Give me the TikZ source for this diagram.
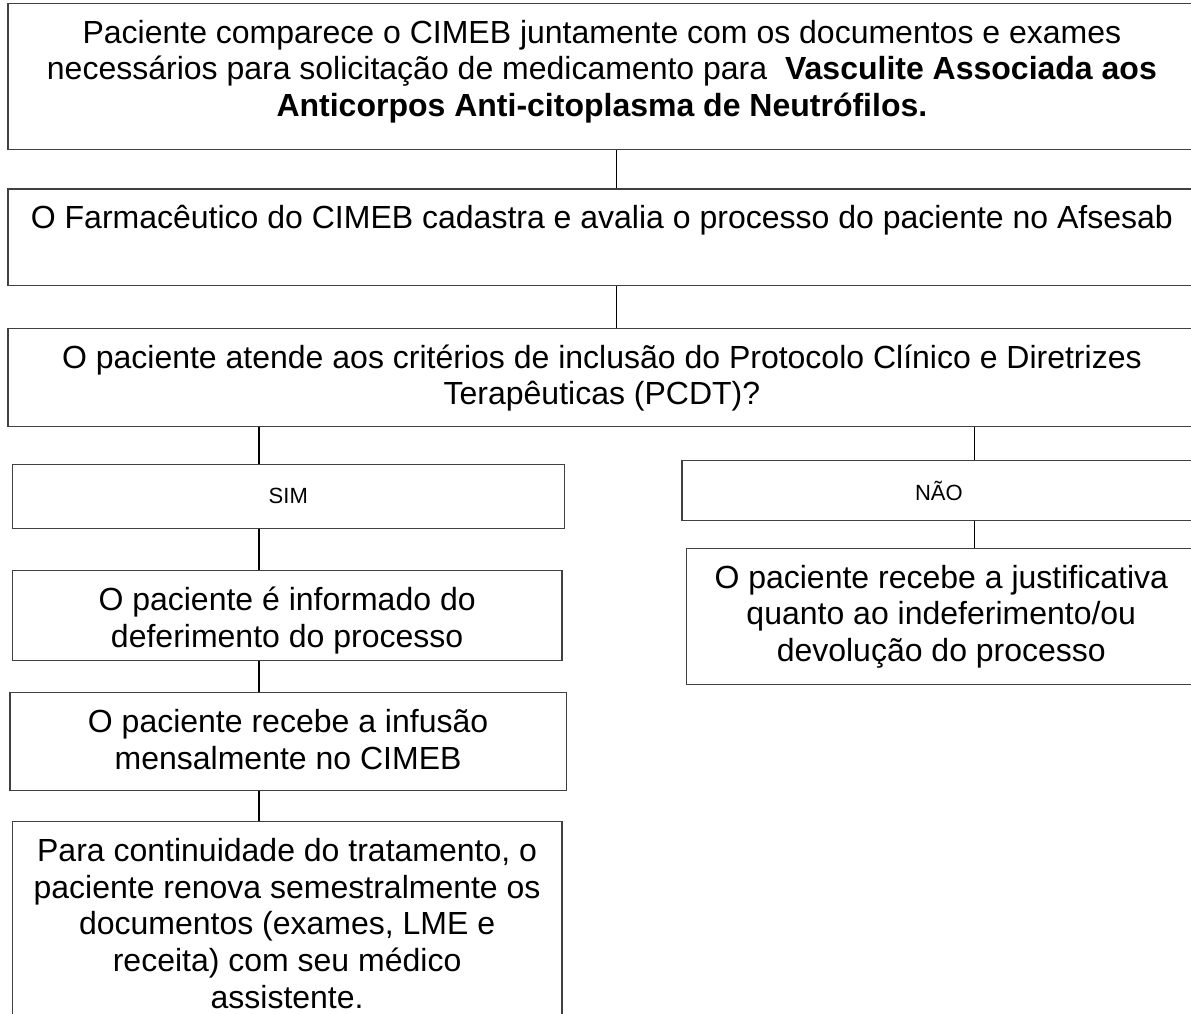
\documentclass[tikz,border=0pt]{standalone}
\usepackage{fontspec}
\setmainfont{Liberation Sans}
\usepackage{tikz}

% texto alinhado no topo da caixa
\newcommand{\caixatexto}[3]{\parbox[c][#2][t]{#1}{\vspace*{14pt}\centering\fontsize{32}{36.8}\selectfont\strut #3\strut}}
\newcommand{\caixaresposta}[3]{\parbox[c][#2][c]{#1}{\centering\fontsize{22}{26}\selectfont #3}}

\begin{document}
\begin{tikzpicture}[x=1pt, y=-1pt,
  caixa/.style={draw=black!75, line width=1.2pt, inner sep=0pt, anchor=north west},
  ligacao/.style={draw=black, line width=1.2pt}]
\useasboundingbox (0,0) rectangle (1191,1014);

\node[caixa] (inicio) at (7.3,2.7) {\caixatexto{1188pt}{146.3pt}{Paciente comparece o CIMEB juntamente com os documentos e exames\\
necessários para solicitação de medicamento para~ \textbf{Vasculite Associada aos\\
Anticorpos Anti-citoplasma de Neutrófilos.}}};

\node[caixa] (cadastro) at (7.3,188.3) {\caixatexto{1188pt}{96.7pt}{O Farmacêutico do CIMEB cadastra e avalia o processo do paciente no Afsesab}};

\node[caixa] (criterios) at (7.3,327.7) {\caixatexto{1188pt}{98pt}{O paciente atende aos critérios de inclusão do Protocolo Clínico e Diretrizes\\
Terapêuticas (PCDT)?}};

% ramo SIM
\node[caixa] (sim) at (11.7,463.7) {\caixaresposta{552pt}{64pt}{SIM}};
\node[caixa] (deferido) at (11.7,570) {\caixatexto{549.6pt}{90pt}{O paciente é informado do\\ deferimento do processo}};
\node[caixa] (infusao) at (9.3,692) {\caixatexto{556.4pt}{98pt}{O paciente recebe a infusão\\ mensalmente no CIMEB}};
\node[caixa] (renovacao) at (11.7,821) {\caixatexto{549.6pt}{240pt}{Para continuidade do tratamento, o\\
paciente renova semestralmente os\\ documentos (exames, LME e\\ receita) com seu médico\\ assistente.}};

% ramo NÃO
\node[caixa] (nao) at (681.3,460) {\caixaresposta{514pt}{59.7pt}{NÃO}};
\node[caixa] (indeferido) at (685.7,547.7) {\caixatexto{510pt}{135.8pt}{O paciente recebe a justificativa\\
quanto ao indeferimento/ou\\ devolução do processo}};

\coordinate (eixo) at (616.7,0);
\coordinate (eixoE) at (259,0);
\coordinate (eixoD) at (974.7,0);

\draw[ligacao] (inicio.south -| eixo) -- (cadastro.north -| eixo);
\draw[ligacao] (cadastro.south -| eixo) -- (criterios.north -| eixo);
\draw[ligacao] (criterios.south -| eixoE) -- (sim.north -| eixoE);
\draw[ligacao] (criterios.south -| eixoD) -- (nao.north -| eixoD);
\draw[ligacao] (sim.south -| eixoE) -- (deferido.north -| eixoE);
\draw[ligacao] (deferido.south -| eixoE) -- (infusao.north -| eixoE);
\draw[ligacao] (infusao.south -| eixoE) -- (renovacao.north -| eixoE);
\draw[ligacao] (nao.south -| eixoD) -- (indeferido.north -| eixoD);
\end{tikzpicture}
\end{document}
